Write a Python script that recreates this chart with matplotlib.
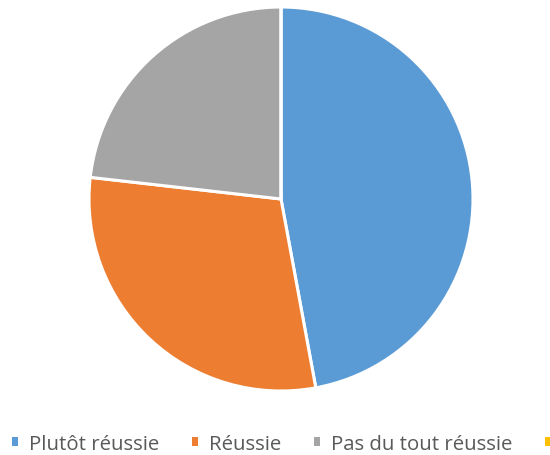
import matplotlib
matplotlib.use("Agg")
import matplotlib.pyplot as plt

categories = ["Plutôt réussie", "Réussie", "Pas du tout réussie", "Pas réussie"]
values = [47.1, 29.7, 23.2, 0.0]
colors = ["#5B9BD5", "#ED7D31", "#A5A5A5", "#FFC000"]

plt.rcParams['font.family'] = ['Open Sans', 'DejaVu Sans']

fig = plt.figure(figsize=(5.5, 4.56), dpi=100)
ax = fig.add_axes([89/550, 64/456, 384/550, 384/456])
wedges, _ = ax.pie(values, colors=colors, startangle=90, counterclock=False,
                   wedgeprops=dict(edgecolor="white", linewidth=2.2))
ax.set_aspect("equal")
ax.set_xlim(-1, 1)
ax.set_ylim(-1, 1)

fs = 14.7
leg = fig.legend(wedges, categories, loc="center left", bbox_to_anchor=(12/550, 1 - 445/456),
                 ncol=4, frameon=False, handlelength=0.3, handleheight=0.3,
                 handletextpad=0.55, columnspacing=1.58, borderaxespad=0, borderpad=0,
                 prop={"size": fs})
for t in leg.get_texts():
    t.set_color("#595959")
for h in leg.legend_handles:
    h.set_edgecolor("none")

fig.savefig("out.png", dpi=100)
